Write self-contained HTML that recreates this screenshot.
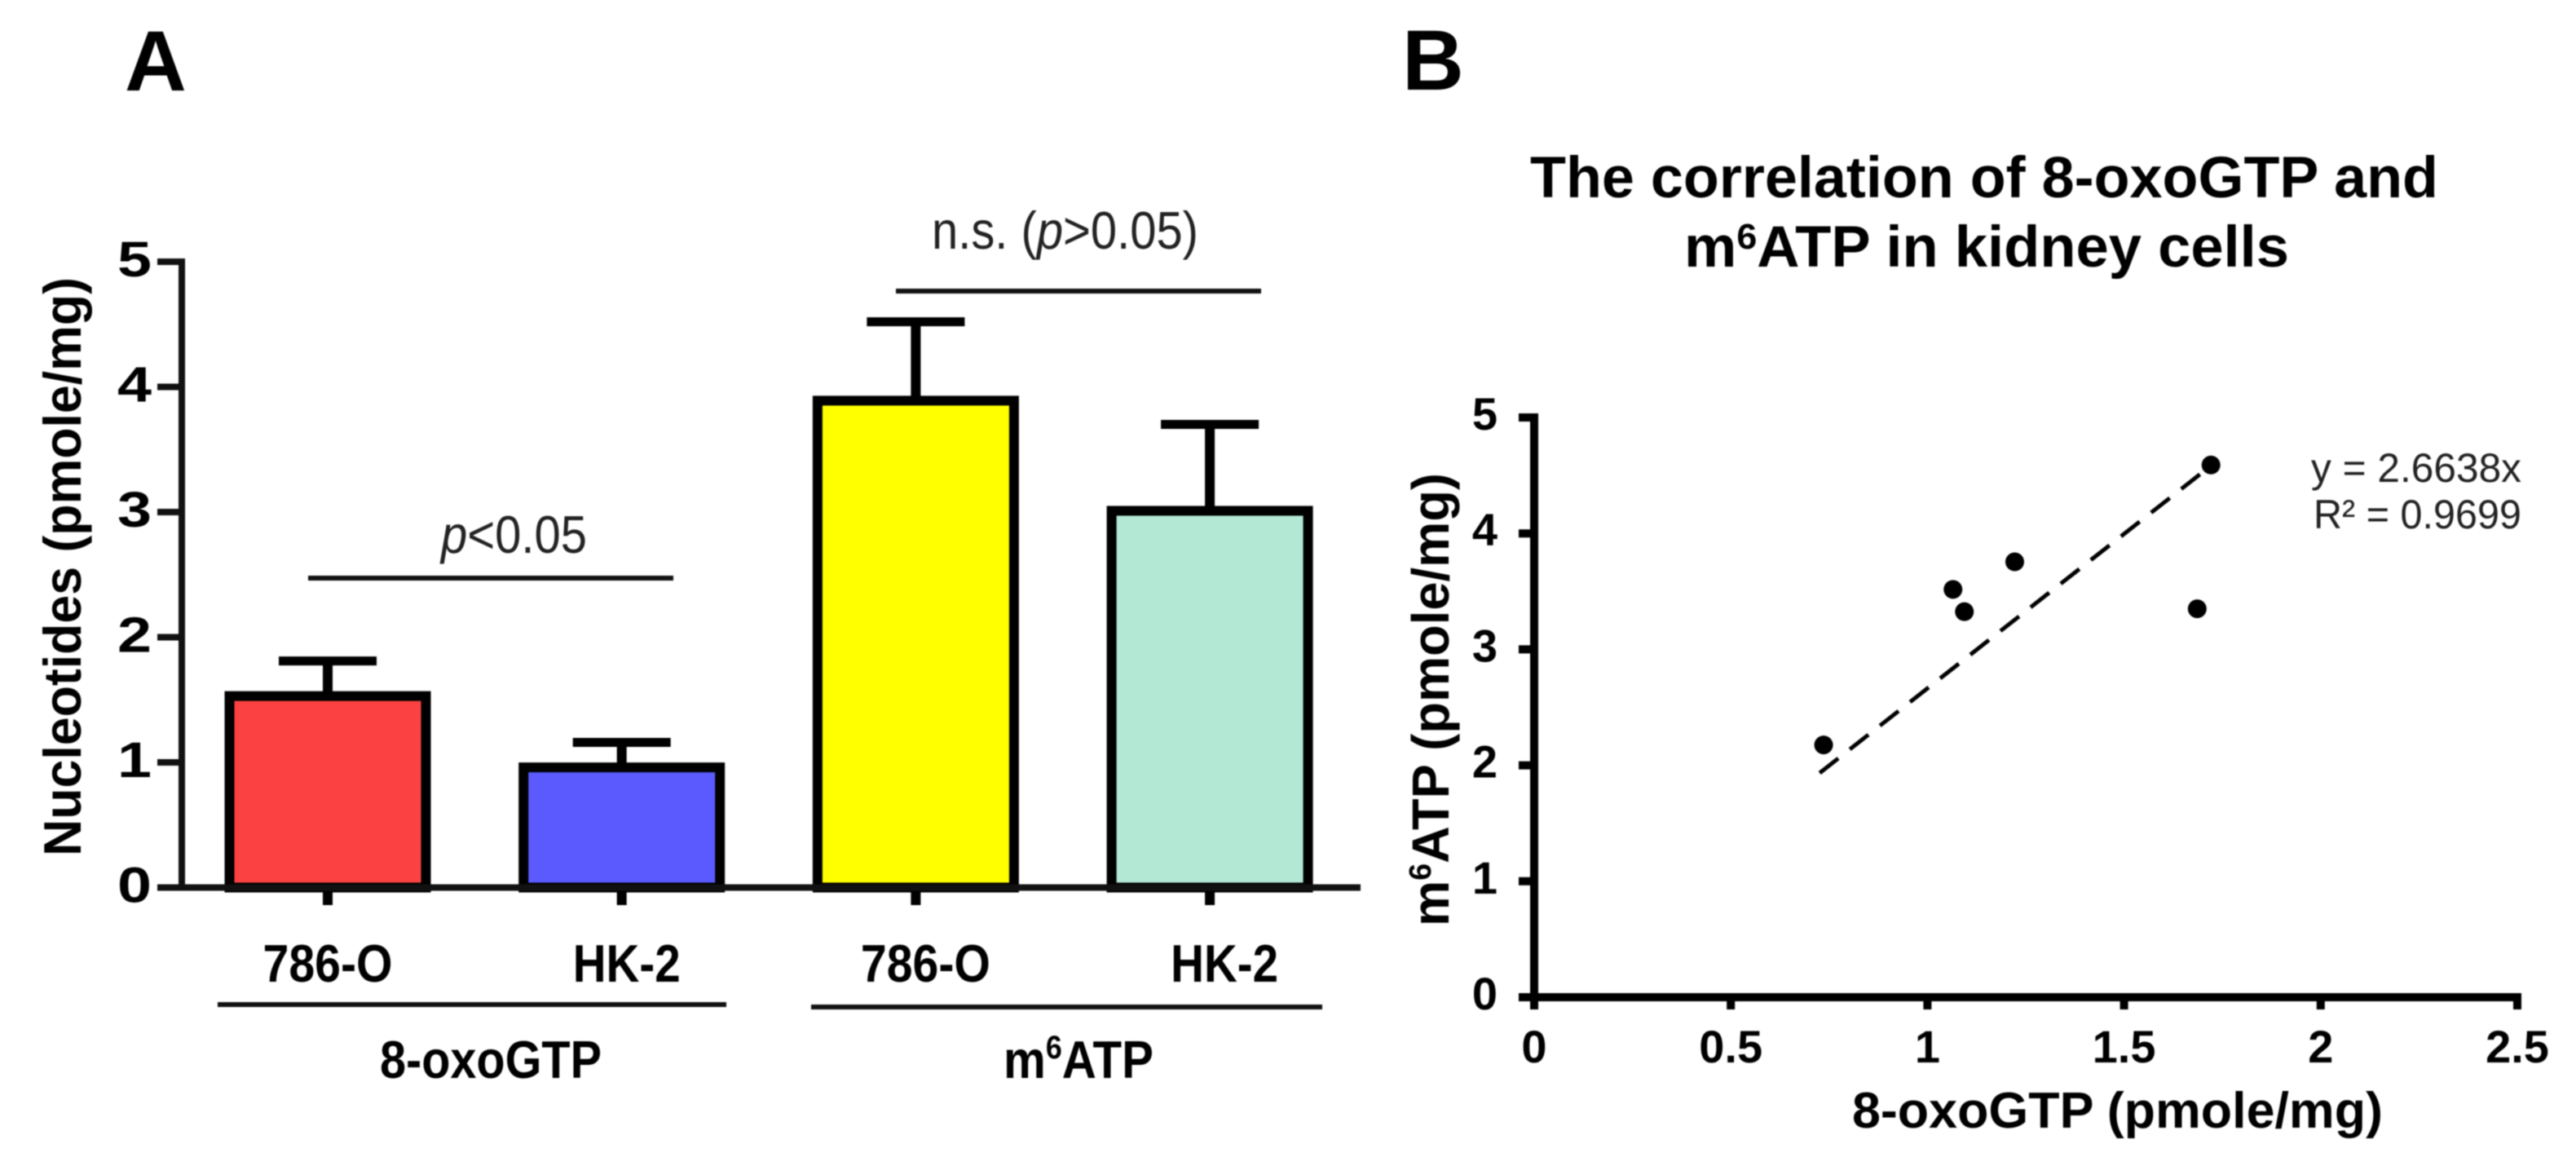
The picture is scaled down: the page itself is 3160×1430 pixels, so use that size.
<!DOCTYPE html>
<html lang="en">
<head>
<meta charset="utf-8">
<title>Nucleotides in kidney cells</title>
<style>
html,body{margin:0;padding:0;background:#fff;width:3160px;height:1430px;overflow:hidden}
svg{display:block;filter:blur(0.8px)}
text{font-family:"Liberation Sans",Arial,sans-serif;fill:#000}
.b{font-weight:700}
.n{fill:#222}
</style>
</head>
<body>
<svg id="figure" xmlns="http://www.w3.org/2000/svg" width="3160" height="1430" viewBox="0 0 3160 1430">
  <rect x="0" y="0" width="3160" height="1430" fill="#fff"/>
  <text class="b" x="153" y="111" font-size="105">A</text>
  <text class="b" x="1720" y="110" font-size="105">B</text>

  <text class="b" transform="translate(99,1050) rotate(-90)" font-size="65" textLength="710" lengthAdjust="spacingAndGlyphs">Nucleotides (pmole/mg)</text>
  <g id="panel-a"></g>

  <rect x="378" y="706" width="448" height="6" fill="#111"/>
  <text class="n" x="541" y="678" font-size="65" textLength="179" lengthAdjust="spacingAndGlyphs"><tspan font-style="italic">p</tspan>&lt;0.05</text>
  <rect x="1099" y="354" width="448" height="6" fill="#111"/>
  <text class="n" x="1143" y="305" font-size="65" textLength="327" lengthAdjust="spacingAndGlyphs">n.s. (<tspan font-style="italic">p</tspan>&gt;0.05)</text>

  <rect x="267" y="1229" width="624" height="6" fill="#111"/>
  <rect x="995" y="1232" width="627" height="6" fill="#111"/>
  <text class="b" x="466" y="1322" font-size="65" textLength="272" lengthAdjust="spacingAndGlyphs">8-oxoGTP</text>
  <text class="b" x="1231" y="1322" font-size="65" textLength="184" lengthAdjust="spacingAndGlyphs">m<tspan font-size="40" dy="-24">6</tspan><tspan dy="24">ATP</tspan></text>

  <text class="b" x="1877" y="242" font-size="71" textLength="1114" lengthAdjust="spacingAndGlyphs">The correlation of 8-oxoGTP and</text>
  <text class="b" x="2066" y="327" font-size="71" textLength="742" lengthAdjust="spacingAndGlyphs">m<tspan font-size="44" dy="-22">6</tspan><tspan dy="22">ATP in kidney cells</tspan></text>

  <text class="b" transform="translate(1777,1136) rotate(-90)" font-size="64" textLength="556" lengthAdjust="spacingAndGlyphs">m<tspan font-size="38" dy="-22">6</tspan><tspan dy="22">ATP (pmole/mg)</tspan></text>
  <text class="b" x="2272" y="1383" font-size="62" textLength="651" lengthAdjust="spacingAndGlyphs">8-oxoGTP (pmole/mg)</text>
  <g id="panel-b"></g>

  <text class="n" x="2835" y="591" font-size="50" textLength="258" lengthAdjust="spacingAndGlyphs">y = 2.6638x</text>
  <text class="n" x="2838" y="648" font-size="50" textLength="255" lengthAdjust="spacingAndGlyphs">R² = 0.9699</text>
</svg>
<script>
// Panel A data
const barCategories = ['786-O', 'HK-2', '786-O', 'HK-2'];
const barMeans = [1.53, 0.96, 3.89, 3.01];
const barUppers = [1.81, 1.16, 4.52, 3.70];
const barColors = ['#fb4141', '#5a5aff', '#ffff00', '#b2e8d4'];
const barTicks = [0, 1, 2, 3, 4, 5];

// Panel B data
const pointsX = [0.736, 1.065, 1.094, 1.222, 1.686, 1.721];
const pointsY = [2.176, 3.517, 3.325, 3.755, 3.35, 4.59];
const trendSlope = 2.6638;
const scatterXTicks = [0, 0.5, 1, 1.5, 2, 2.5];
const scatterYTicks = [0, 1, 2, 3, 4, 5];

const NS = 'http://www.w3.org/2000/svg';
function mk(parent, tag, attrs, txt) {
  const el = document.createElementNS(NS, tag);
  for (const k in attrs) el.setAttribute(k, attrs[k]);
  if (txt !== undefined) el.textContent = txt;
  parent.appendChild(el);
  return el;
}

// Panel A axis functions
const aY = v => 1088.5 - v * 153.5;
const aX = i => 402 + i * 360.7;
const gA = document.getElementById('panel-a');

barCategories.forEach((cat, i) => {
  const cx = aX(i);
  const err = mk(gA, 'line', {x1: cx, x2: cx, y1: aY(barMeans[i]), y2: aY(barUppers[i]), stroke: '#000', 'stroke-width': 12});
  
  
  const cap = mk(gA, 'line', {x1: cx - 60, x2: cx + 60, y1: aY(barUppers[i]), y2: aY(barUppers[i]), stroke: '#000', 'stroke-width': 11});
  
  
  const bar = mk(gA, 'rect', {x: cx - 120.5, y: aY(barMeans[i]), width: 241, height: aY(0) - aY(barMeans[i]), fill: barColors[i], stroke: '#000', 'stroke-width': 12});
  
  
  const tick = mk(gA, 'line', {x1: cx, x2: cx, y1: aY(0), y2: 1110, stroke: '#000', 'stroke-width': 12});
  
  
  const lab = mk(gA, 'text', {x: cx + i * 6, y: 1204, 'font-size': 65, 'font-weight': 700, 'text-anchor': 'middle', textLength: i % 2 ? 132 : 159, lengthAdjust: 'spacingAndGlyphs'}, cat);
  
  
});

const aYAxis = mk(gA, 'line', {x1: 223, x2: 223, y1: aY(5) - 4, y2: aY(0) + 4, stroke: '#111', 'stroke-width': 8});


const aXAxis = mk(gA, 'line', {x1: 193, x2: 1669, y1: aY(0), y2: aY(0), stroke: '#111', 'stroke-width': 8});



barTicks.forEach(v => {
  const t = mk(gA, 'line', {x1: 193, x2: 223, y1: aY(v), y2: aY(v), stroke: '#111', 'stroke-width': 8});
  
  
  const l = mk(gA, 'text', {x: 186, y: aY(v) + 18, 'font-size': 61, 'font-weight': 700, 'text-anchor': 'end', textLength: 42, lengthAdjust: 'spacingAndGlyphs'}, String(v));
  
  
});

// Panel B axis functions
const bX = v => 1882 + v * 482.4;
const bY = v => 1223 - v * 142.2;
const gB = document.getElementById('panel-b');

const bYAxis = mk(gB, 'line', {x1: bX(0), x2: bX(0), y1: bY(5) - 5, y2: bY(0) + 5, stroke: '#000', 'stroke-width': 10});


const bXAxis = mk(gB, 'line', {x1: bX(0) - 19, x2: bX(2.5) + 5, y1: bY(0), y2: bY(0), stroke: '#000', 'stroke-width': 10});



scatterYTicks.forEach(v => {
  const t = mk(gB, 'line', {x1: 1863, x2: bX(0), y1: bY(v), y2: bY(v), stroke: '#000', 'stroke-width': 10});
  
  
  const l = mk(gB, 'text', {x: 1837, y: bY(v) + 15, 'font-size': 56, 'font-weight': 700, 'text-anchor': 'end'}, String(v));
  
  
});
scatterXTicks.forEach(v => {
  const t = mk(gB, 'line', {x1: bX(v), x2: bX(v), y1: bY(0), y2: 1238, stroke: '#000', 'stroke-width': 10});
  
  
  const l = mk(gB, 'text', {x: bX(v), y: 1303, 'font-size': 56, 'font-weight': 700, 'text-anchor': 'middle'}, String(v));
  
  
});

const xMin = Math.min(...pointsX) - 0.01;
const xMax = Math.max(...pointsX);
const trend = mk(gB, 'line', {x1: bX(xMin), y1: bY(trendSlope * xMin), x2: bX(xMax), y2: bY(trendSlope * xMax), stroke: '#000', 'stroke-width': 5, 'stroke-dasharray': '29 18'});



pointsX.forEach((x, i) => {
  const c = mk(gB, 'circle', {cx: bX(x), cy: bY(pointsY[i]), r: 11.5, fill: '#000'});
  
  
});
</script>
</body>
</html>
